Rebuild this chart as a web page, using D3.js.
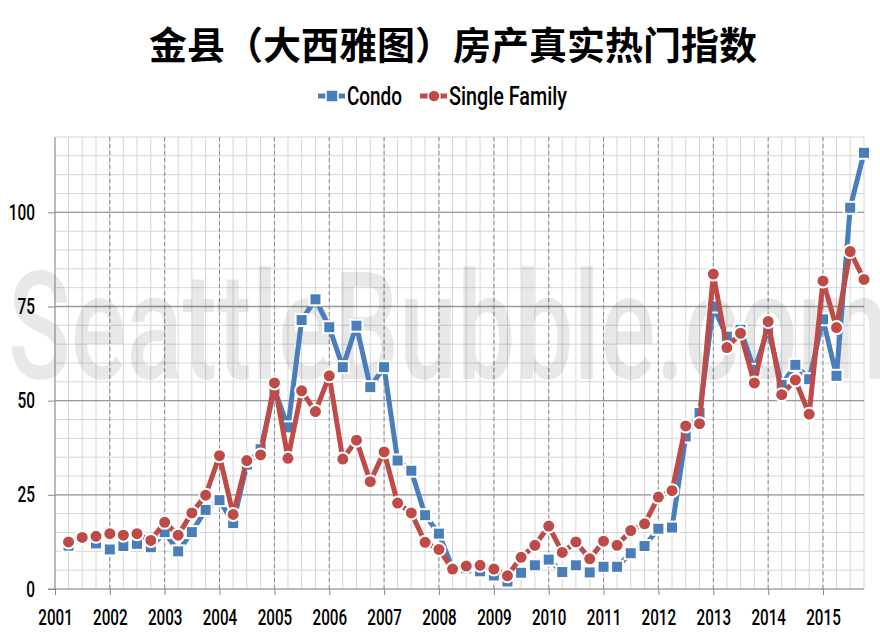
<!DOCTYPE html>
<html>
<head>
<meta charset="utf-8">
<script src="https://cdn.jsdelivr.net/npm/d3@7"></script>
<style>
  body { margin: 0; background: #fff; }
  #chart text { font-family: Roboto, "Liberation Sans", sans-serif; }
</style>
</head>
<body>
<div id="chart"></div>
<script>
// quarterly index values, 2001 Q1 .. 2015 Q3
var condo = [11.5, 13.5, 12.1, 10.5, 11.4, 12.0, 11.1, 15.1, 10.0, 15.1,
  21.0, 23.6, 17.5, 33.0, 37.1, 53.0, 42.9, 71.4, 76.9, 69.5,
  58.9, 69.9, 53.6, 58.9, 34.1, 31.4, 19.6, 14.7, 5.5, 5.5,
  4.7, 3.6, 2.0, 4.3, 6.3, 7.8, 4.5, 6.3, 4.4, 5.9,
  5.9, 9.5, 11.4, 16.0, 16.3, 40.5, 46.7, 75.0, 67.0, 68.8,
  58.2, 69.0, 54.2, 59.5, 55.7, 71.6, 56.6, 101.2, 115.8];
var singleFamily = [12.5, 13.7, 14.0, 14.7, 14.3, 14.7, 12.9, 17.7, 14.3, 20.2,
  24.9, 35.4, 19.8, 34.1, 35.6, 54.7, 34.7, 52.6, 47.1, 56.6,
  34.5, 39.5, 28.5, 36.4, 22.8, 20.2, 12.4, 10.5, 5.3, 6.1,
  6.3, 5.3, 3.5, 8.4, 11.6, 16.7, 9.7, 12.5, 8.0, 12.7,
  11.6, 15.5, 17.3, 24.4, 26.1, 43.3, 43.9, 83.6, 64.1, 67.9,
  54.7, 71.0, 51.6, 55.5, 46.4, 81.8, 69.4, 89.6, 82.2];
var firstDate = new Date(2001, 2, 15);
var yTicks = [0, 25, 50, 75, 100];
var title = "金县（大西雅图）房产真实热门指数";
var seriesNames = ["Condo", "Single Family"];
var seriesColors = ["#4a7ebb", "#be4b48"];

var chart = {
  width: 880,
  height: 641,
  top: 137,
  right: 16,
  bottom: 52,
  left: 55,
};

// one date per quarter, same count as the values
var dates = d3.timeMonth.every(3).range(firstDate, d3.timeMonth.offset(firstDate, condo.length * 3));

// squeeze text horizontally to look like a condensed face
function condense(sel, factor) {
  sel.each(function () {
    var w = this.getComputedTextLength();
    d3.select(this).attr("textLength", w * factor).attr("lengthAdjust", "spacingAndGlyphs");
  });
}

const svg = d3
  .select("#chart")
  .append("svg")
  .attr("width", chart.width)
  .attr("height", chart.height);

var x = d3
  .scaleTime()
  .domain([new Date(2001, 0, 1), new Date(2015, 9, 1)])
  .range([chart.left, chart.width - chart.right]);

var y = d3
  .scaleLinear()
  .domain([0, 120])
  .range([chart.height - chart.bottom, chart.top]);

/* grid */
var grid = svg.append("g");

grid.selectAll(".vminor")
  .data(d3.timeMonth.every(3).range(new Date(2001, 0, 1), new Date(2015, 9, 2)))
  .join("line")
  .attr("x1", (d) => x(d))
  .attr("x2", (d) => x(d))
  .attr("y1", y(120))
  .attr("y2", y(0))
  .attr("stroke", "#d6d6d6")
  .attr("stroke-width", 1);

grid.selectAll(".hminor")
  .data(d3.range(0, 121, 5))
  .join("line")
  .attr("x1", chart.left)
  .attr("x2", chart.width - chart.right)
  .attr("y1", (d) => y(d))
  .attr("y2", (d) => y(d))
  .attr("stroke", "#d6d6d6")
  .attr("stroke-width", 1);

grid.selectAll(".vyear")
  .data(d3.timeYear.every(1).range(new Date(2002, 0, 1), new Date(2015, 1, 1)))
  .join("line")
  .attr("x1", (d) => x(d))
  .attr("x2", (d) => x(d))
  .attr("y1", y(120))
  .attr("y2", y(0))
  .attr("stroke", "#8a8a8a")
  .attr("stroke-dasharray", "4,3")
  .attr("stroke-width", 1);

grid.selectAll(".hmajor")
  .data(yTicks.slice(1))
  .join("line")
  .attr("x1", chart.left)
  .attr("x2", chart.width - chart.right)
  .attr("y1", (d) => y(d))
  .attr("y2", (d) => y(d))
  .attr("stroke", "#9a9a9a")
  .attr("stroke-width", 1.3);

/* watermark */
svg.append("text")
  .attr("x", 8)
  .attr("y", 379)
  .attr("textLength", 880)
  .attr("lengthAdjust", "spacingAndGlyphs")
  .attr("font-size", 150)
  .attr("font-weight", 500)
  .attr("fill", "#000")
  .attr("fill-opacity", 0.09)
  .text("SeattleBubble.com");

/* axes */
var xAxis = (g) =>
  g
    .attr("transform", `translate(0, ${y(0)})`)
    .call(d3.axisBottom(x).ticks(d3.timeYear.every(1)).tickFormat(d3.timeFormat("%Y")).tickSize(6).tickPadding(14))
    .call((g) => g.select(".domain").attr("stroke", "#8a8a8a").attr("d", `M${chart.left - 7},0H${chart.width - chart.right}`))
    .call((g) => g.selectAll(".tick line").attr("stroke", "#8a8a8a"))
    .call((g) => g.selectAll(".tick text").attr("font-size", 22).attr("font-weight", 500).attr("fill", "#000"));

var yAxis = (g) =>
  g
    .attr("transform", `translate(${chart.left}, 0)`)
    .call(d3.axisLeft(y).tickValues(yTicks).tickSize(7).tickPadding(13))
    .call((g) => g.select(".domain").attr("stroke", "#8a8a8a").attr("d", `M0,${y(120)}V${y(0)}`))
    .call((g) => g.selectAll(".tick line").attr("stroke", "#8a8a8a"))
    .call((g) => g.selectAll(".tick text").attr("font-size", 22).attr("font-weight", 500).attr("fill", "#000"));

svg.append("g").call(xAxis).selectAll(".tick text").call(condense, 0.69);
svg.append("g").call(yAxis).selectAll(".tick text").call(condense, 0.7);

/* series */
function plotSeries(values, color, shape) {
  var line = d3
    .line()
    .x((d, i) => x(dates[i]))
    .y((d) => y(d));

  svg
    .append("path")
    .datum(values)
    .attr("fill", "none")
    .attr("stroke", color)
    .attr("stroke-width", 5)
    .attr("stroke-linejoin", "round")
    .attr("d", line);

  var marks = svg.append("g")
    .attr("fill", color)
    .attr("stroke", "#fff")
    .attr("stroke-width", 2);

  if (shape === "square") {
    marks.selectAll("rect")
      .data(values)
      .join("rect")
      .attr("x", (d, i) => x(dates[i]) - 6)
      .attr("y", (d) => y(d) - 6)
      .attr("width", 12)
      .attr("height", 12);
  } else {
    marks.selectAll("circle")
      .data(values)
      .join("circle")
      .attr("cx", (d, i) => x(dates[i]))
      .attr("cy", (d) => y(d))
      .attr("r", 6.5);
  }
}

plotSeries(condo, seriesColors[0], "square");
plotSeries(singleFamily, seriesColors[1], "circle");

/* title */
svg.append("text")
  .attr("x", 453)
  .attr("y", 59)
  .attr("text-anchor", "middle")
  .attr("font-size", 38)
  .attr("font-weight", "bold")
  .style("font-family", "'Noto Sans CJK SC', sans-serif")
  .attr("fill", "#000")
  .text(title);

/* legend */
var legend = svg.append("g");
var legendX = [318, 420];
var legendTextWidth = [55, 118];
seriesNames.forEach((name, i) => {
  var g = legend.append("g").attr("transform", `translate(${legendX[i]}, 96)`);
  g.append("line")
    .attr("x1", 0).attr("x2", 27)
    .attr("stroke", seriesColors[i])
    .attr("stroke-width", 5);
  if (i === 0) {
    g.append("rect").attr("x", 8).attr("y", -6).attr("width", 12).attr("height", 12)
      .attr("fill", seriesColors[i]).attr("stroke", "#fff").attr("stroke-width", 1.5);
  } else {
    g.append("circle").attr("cx", 14).attr("r", 6)
      .attr("fill", seriesColors[i]).attr("stroke", "#fff").attr("stroke-width", 1.5);
  }
  g.append("text")
    .attr("x", 29)
    .attr("y", 9)
    .attr("font-size", 25)
    .attr("font-weight", 500)
    .attr("textLength", legendTextWidth[i])
    .attr("lengthAdjust", "spacingAndGlyphs")
    .attr("fill", "#000")
    .text(name);
});
</script>
</body>
</html>
